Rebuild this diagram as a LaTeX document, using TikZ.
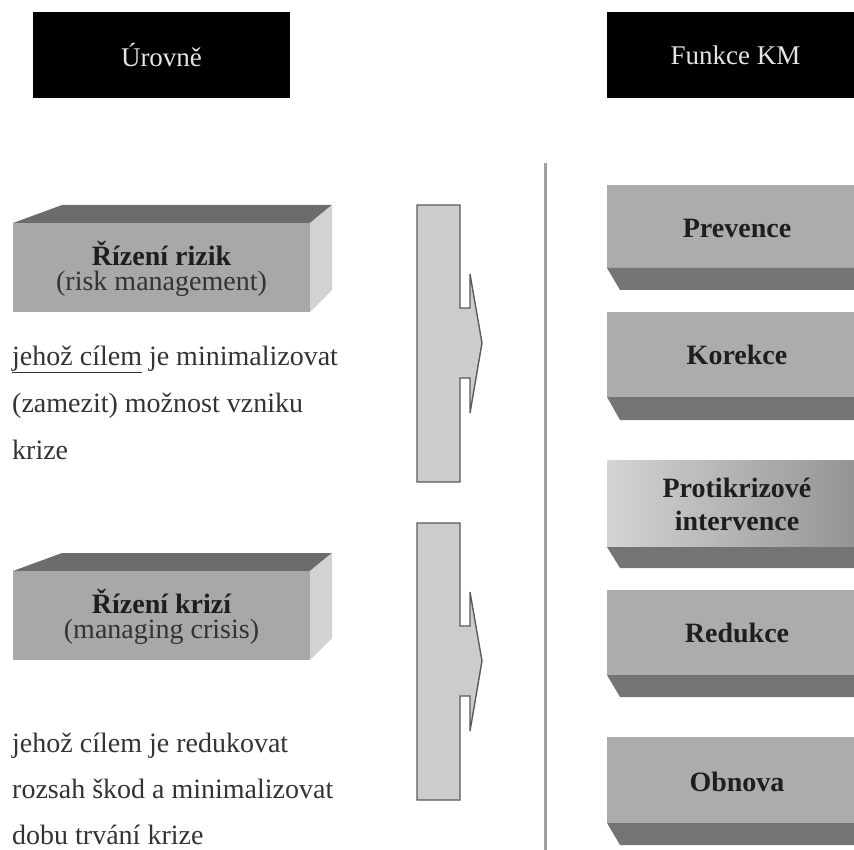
\documentclass[tikz,border=0pt]{standalone}
\usepackage{fontspec}
\setmainfont{Liberation Serif}
\definecolor{frontL}{HTML}{A8A8A8}
\definecolor{topL}{HTML}{6C6C6C}
\definecolor{sideL}{HTML}{D2D2D2}
\definecolor{frontR}{HTML}{ACACAC}
\definecolor{bevelR}{HTML}{747474}
\definecolor{arrfill}{HTML}{CCCCCC}
\definecolor{arrline}{HTML}{5A5A5A}
\definecolor{divline}{HTML}{A0A0A0}
\definecolor{txt}{HTML}{1E1E1E}
\definecolor{txtsoft}{HTML}{333333}
\begin{document}
\begin{tikzpicture}[x=1pt,y=-1pt,
  hdr/.style={fill=black, text=white!90!black, minimum width=257pt, minimum height=86pt, inner sep=0pt, font=\fontsize{27}{30}\selectfont},
  boldlbl/.style={text=txt, inner sep=0pt, font=\fontsize{28}{30}\selectfont\bfseries},
  softlbl/.style={text=txtsoft, inner sep=0pt, font=\fontsize{28}{30}\selectfont},
  paraline/.style={text=txtsoft, inner sep=0pt, anchor=base west, font=\fontsize{28}{30}\selectfont},
  arrowshape/.style={fill=arrfill, draw=arrline, line width=1.4pt, line join=miter},
  ]
\useasboundingbox (0,0) rectangle (854,850);

% headers
\node[hdr] (h1) at (161.5,55) {Úrovně};
\node[hdr] (h2) at (735.5,55) {Funkce KM};

% divider
\coordinate (d1) at (545,163);
\coordinate (d2) at (545,852);
\draw[divline, line width=3pt] (d1) -- (d2);

% left 3D boxes
\foreach \t in {205, 553}{
  \fill[topL] (13,\t+18) -- (62,\t) -- (332,\t) -- (310,\t+18) -- cycle;
  \fill[sideL] (310,\t+18) -- (332,\t) -- (332,\t+85) -- (310,\t+107) -- cycle;
  \fill[frontL] (13,\t+18) rectangle (310,\t+107);
}
\node[boldlbl] (b1a) at (161.5,253) {Řízení rizik};
\node[softlbl] (b1b) at (161.5,284) {(risk management)};
\node[boldlbl] (b2a) at (161.5,601) {Řízení krizí};
\node[softlbl] (b2b) at (161.5,632) {(managing crisis)};

% paragraphs
\node[paraline] (p1a) at (12,365) {\underline{jehož cílem} je minimalizovat};
\node[paraline] (p1b) at (12,412) {(zamezit) možnost vzniku};
\node[paraline] (p1c) at (12,459) {krize};
\node[paraline] (p2a) at (12,752) {jehož cílem je redukovat};
\node[paraline] (p2b) at (12,798) {rozsah škod a minimalizovat};
\node[paraline] (p2c) at (12,844) {dobu trvání krize};

% arrows
\foreach \t in {205, 523}{
  \draw[arrowshape] (417,\t) -- (460,\t) -- (460,\t+103) -- (470,\t+103) -- (470,\t+69)
    -- (482,\t+138) -- (470,\t+208) -- (470,\t+173) -- (460,\t+173) -- (460,\t+277)
    -- (417,\t+277) -- cycle;
}

% right boxes
\foreach \a/\b/\c in {185/268/290, 312/397/420, 590/675/697, 737/823/845}{
  \fill[frontR] (607,\a) rectangle (856,\b);
  \fill[bevelR] (607,\b) -- (856,\b) -- (856,\c) -- (620,\c) -- cycle;
}
\shade[left color=white!83!black, right color=black!42] (607,460) rectangle (856,547);
\fill[bevelR] (607,547) -- (856,547) -- (856,568) -- (620,568) -- cycle;

\node[boldlbl] (r1) at (737,228) {Prevence};
\node[boldlbl] (r2) at (737,355) {Korekce};
\node[boldlbl, align=center, font=\fontsize{28}{33}\selectfont\bfseries] (r3) at (737,504) {Protikrizové\\intervence};
\node[boldlbl] (r4) at (737,633) {Redukce};
\node[boldlbl] (r5) at (737,782) {Obnova};
\end{tikzpicture}
\end{document}
